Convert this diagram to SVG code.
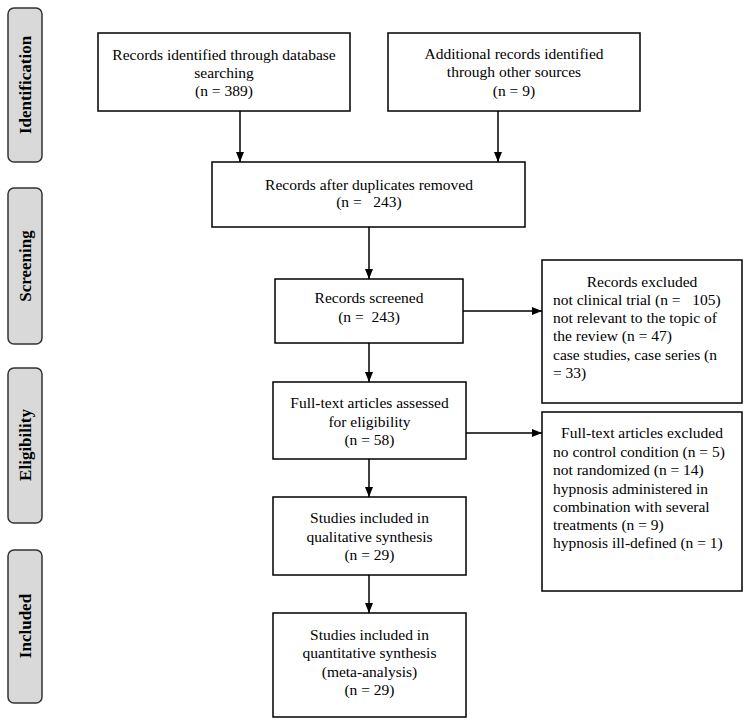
<svg xmlns="http://www.w3.org/2000/svg" width="751" height="726" viewBox="0 0 751 726">
<defs>
<marker id="ah" viewBox="0 0 10 10" refX="10" refY="5" markerWidth="10" markerHeight="10" markerUnits="userSpaceOnUse" orient="auto">
<path d="M0,1 L10,5 L0,9 Z" fill="#000"/>
</marker>
</defs>
<style>
.box{fill:#fff;stroke:#000;stroke-width:1.5}
.side{fill:#d9d9d9;stroke:#333;stroke-width:1.5}
.t{font-family:"Liberation Serif","Times New Roman",serif;font-size:15.5px;fill:#000;white-space:pre}
.c{text-anchor:middle}
.s{font-family:"Liberation Serif","Times New Roman",serif;font-size:17px;font-weight:bold;fill:#000;text-anchor:middle}
.ln{stroke:#000;stroke-width:1.5;fill:none;marker-end:url(#ah)}
</style>
<rect width="751" height="726" fill="#fff"/>
<g id="phase-identification"><rect class="side" x="8" y="8" width="34" height="154" rx="6"/><text class="s" transform="translate(31,85) rotate(-90)">Identification</text></g>
<g id="phase-screening"><rect class="side" x="8" y="188" width="34" height="156" rx="6"/><text class="s" transform="translate(31,266) rotate(-90)">Screening</text></g>
<g id="phase-eligibility"><rect class="side" x="8" y="368" width="34" height="155" rx="6"/><text class="s" transform="translate(31,445) rotate(-90)">Eligibility</text></g>
<g id="phase-included"><rect class="side" x="8" y="550" width="34" height="153" rx="6"/><text class="s" transform="translate(31,626) rotate(-90)">Included</text></g>

<g id="n-database"><rect class="box" x="98" y="33" width="252" height="78"/>
<text class="t c" x="224" y="60">Records identified through database</text>
<text class="t c" x="224" y="78">searching</text>
<text class="t c" x="224" y="96">(n = 389)</text></g>

<g id="n-other"><rect class="box" x="388" y="33" width="252" height="78"/>
<text class="t c" x="514" y="59">Additional records identified</text>
<text class="t c" x="514" y="77">through other sources</text>
<text class="t c" x="514" y="96">(n = 9)</text></g>

<g id="n-duplicates"><rect class="box" x="212" y="162" width="313" height="65"/>
<text class="t c" x="369" y="190">Records after duplicates removed</text>
<text class="t c" x="369" y="207">(n =   243)</text></g>

<g id="n-screened"><rect class="box" x="275" y="279" width="188" height="64"/>
<text class="t c" x="369" y="303">Records screened</text>
<text class="t c" x="369" y="322">(n =  243)</text></g>

<g id="n-excluded1"><rect class="box" x="542" y="260" width="200" height="143"/>
<text class="t c" x="642" y="287">Records excluded</text>
<text class="t" x="553" y="305">not clinical trial (n =   105)</text>
<text class="t" x="553" y="323">not relevant to the topic of</text>
<text class="t" x="553" y="341">the review (n = 47)</text>
<text class="t" x="553" y="360">case studies, case series (n</text>
<text class="t" x="553" y="378">= 33)</text></g>

<g id="n-fulltext"><rect class="box" x="273" y="382" width="193" height="77"/>
<text class="t c" x="369.5" y="408">Full-text articles assessed</text>
<text class="t c" x="369.5" y="427">for eligibility</text>
<text class="t c" x="369.5" y="445">(n = 58)</text></g>

<g id="n-excluded2"><rect class="box" x="542" y="412" width="200" height="179"/>
<text class="t c" x="642" y="438">Full-text articles excluded</text>
<text class="t" x="553" y="457">no control condition (n = 5)</text>
<text class="t" x="553" y="475">not randomized (n = 14)</text>
<text class="t" x="553" y="494">hypnosis administered in</text>
<text class="t" x="553" y="512">combination with several</text>
<text class="t" x="553" y="530">treatments (n = 9)</text>
<text class="t" x="553" y="548">hypnosis ill-defined (n = 1)</text></g>

<g id="n-qualitative"><rect class="box" x="273" y="497" width="193" height="78"/>
<text class="t c" x="369.5" y="523">Studies included in</text>
<text class="t c" x="369.5" y="542">qualitative synthesis</text>
<text class="t c" x="369.5" y="560">(n = 29)</text></g>

<g id="n-quantitative"><rect class="box" x="273" y="613" width="193" height="104"/>
<text class="t c" x="369.5" y="640">Studies included in</text>
<text class="t c" x="369.5" y="658">quantitative synthesis</text>
<text class="t c" x="369.5" y="677">(meta-analysis)</text>
<text class="t c" x="369.5" y="695">(n = 29)</text></g>

<g id="connectors">
<line class="ln" x1="240" y1="111" x2="240" y2="162"/>
<line class="ln" x1="498" y1="111" x2="498" y2="162"/>
<line class="ln" x1="369" y1="227" x2="369" y2="279"/>
<line class="ln" x1="463" y1="311" x2="542" y2="311"/>
<line class="ln" x1="369" y1="343" x2="369" y2="382"/>
<line class="ln" x1="466" y1="433" x2="542" y2="433"/>
<line class="ln" x1="369" y1="459" x2="369" y2="497"/>
<line class="ln" x1="369" y1="575" x2="369" y2="613"/>
</g>
</svg>
